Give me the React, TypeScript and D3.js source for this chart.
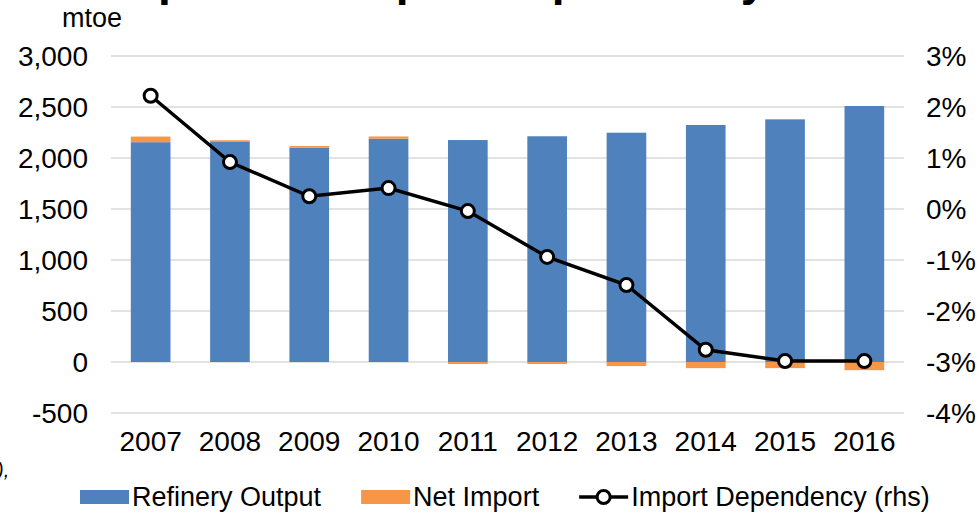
import React, { useEffect, useRef } from "react";
import * as d3 from "d3";

// chart values
const years = ["2007", "2008", "2009", "2010", "2011", "2012", "2013", "2014", "2015", "2016"];
const refineryOutput = [2155, 2157, 2100, 2189, 2176, 2213, 2248, 2324, 2379, 2510];
const netImport = [55, 17, 18, 22, -20, -20, -40, -60, -60, -80];
const importDependency = [2.22, 0.92, 0.25, 0.41, -0.04, -0.94, -1.49, -2.76, -2.98, -2.98];

const leftTicks = [-500, 0, 500, 1000, 1500, 2000, 2500, 3000];
const rightTicks = [-4, -3, -2, -1, 0, 1, 2, 3];

const legendItems = ["Refinery Output", "Net Import", "Import Dependency (rhs)"];

const WIDTH = 977;
const HEIGHT = 512;
const BLUE = "#4F81BD";
const ORANGE = "#F79646";
const FONT = "'Liberation Sans', Arial, sans-serif";

const App = () => {
  const svgRef = useRef<SVGSVGElement>(null);

  useEffect(() => {
    const svg = d3.select(svgRef.current);
    svg.selectAll("*").remove();

    const plot = { left: 111, right: 904, top: 56, bottom: 413 };

    const x = d3
      .scaleBand()
      .domain(years)
      .range([plot.left, plot.right])
      .paddingInner(0.5)
      .paddingOuter(0.25);
    const y = d3.scaleLinear().domain([-500, 3000]).range([plot.bottom, plot.top]);
    const yRight = d3.scaleLinear().domain([-4, 3]).range([plot.bottom, plot.top]);

    // cut-off title at the very top (only descenders show)
    svg
      .append("text")
      .attr("x", 84)
      .attr("y", -5)
      .style("font-family", FONT)
      .style("font-weight", "bold")
      .style("font-size", "46px")
      .text("Oil product import dependency");

    // unit label
    svg
      .append("text")
      .attr("x", 62)
      .attr("y", 27)
      .style("font-family", FONT)
      .style("font-size", "27px")
      .text("mtoe");

    // gridlines
    svg
      .append("g")
      .selectAll("line")
      .data(leftTicks)
      .enter()
      .append("line")
      .attr("x1", plot.left)
      .attr("x2", plot.right)
      .attr("y1", (d) => y(d))
      .attr("y2", (d) => y(d))
      .attr("stroke", "#D9D9D9")
      .attr("stroke-width", 1.5);

    // left axis labels
    svg
      .append("g")
      .selectAll("text")
      .data(leftTicks)
      .enter()
      .append("text")
      .attr("x", 88)
      .attr("y", (d) => y(d))
      .attr("dy", "0.35em")
      .attr("text-anchor", "end")
      .style("font-family", FONT)
      .style("font-size", "28px")
      .text((d) => d3.format(",")(d).replace("−", "-"));

    // right axis labels
    svg
      .append("g")
      .selectAll("text")
      .data(rightTicks)
      .enter()
      .append("text")
      .attr("x", 926)
      .attr("y", (d) => yRight(d))
      .attr("dy", "0.35em")
      .style("font-family", FONT)
      .style("font-size", "28px")
      .text((d) => `${d}%`);

    // year labels
    svg
      .append("g")
      .selectAll("text")
      .data(years)
      .enter()
      .append("text")
      .attr("x", (d) => (x(d) ?? 0) + x.bandwidth() / 2)
      .attr("y", plot.bottom + 38)
      .attr("text-anchor", "middle")
      .style("font-family", FONT)
      .style("font-size", "28px")
      .text((d) => d);

    // stacked bars
    const rows = years.map((yr, i) => ({
      year: yr,
      refinery: refineryOutput[i],
      netImport: netImport[i],
    }));
    const series = d3
      .stack<any>()
      .keys(["refinery", "netImport"])
      .offset(d3.stackOffsetDiverging)(rows);
    const colors = [BLUE, ORANGE];

    svg
      .append("g")
      .selectAll("g")
      .data(series)
      .enter()
      .append("g")
      .attr("fill", (_d, i) => colors[i])
      .selectAll("rect")
      .data((d) => d)
      .enter()
      .append("rect")
      .attr("x", (d: any) => x(d.data.year) ?? 0)
      .attr("width", x.bandwidth())
      .attr("y", (d) => y(Math.max(d[0], d[1])))
      .attr("height", (d) => Math.abs(y(d[0]) - y(d[1])));

    // import dependency line
    const line = d3
      .line<number>()
      .x((_d, i) => (x(years[i]) ?? 0) + x.bandwidth() / 2)
      .y((d) => yRight(d));

    svg
      .append("path")
      .datum(importDependency)
      .attr("d", line)
      .attr("fill", "none")
      .attr("stroke", "#000")
      .attr("stroke-width", 3.5);

    svg
      .append("g")
      .selectAll("circle")
      .data(importDependency)
      .enter()
      .append("circle")
      .attr("cx", (_d, i) => (x(years[i]) ?? 0) + x.bandwidth() / 2)
      .attr("cy", (d) => yRight(d))
      .attr("r", 6.5)
      .attr("fill", "#fff")
      .attr("stroke", "#000")
      .attr("stroke-width", 3);

    // clipped source note at left edge
    svg
      .append("text")
      .attr("x", -3)
      .attr("y", 477)
      .style("font-family", FONT)
      .style("font-style", "italic")
      .style("font-size", "20px")
      .text("),");

    // legend
    const legend = svg.append("g");
    const legendY = 497;
    let lx = 80;
    legendItems.forEach((label, i) => {
      if (i < 2) {
        legend
          .append("rect")
          .attr("x", lx)
          .attr("y", legendY - 7)
          .attr("width", 49)
          .attr("height", 14)
          .attr("fill", colors[i]);
      } else {
        legend
          .append("line")
          .attr("x1", lx)
          .attr("x2", lx + 49)
          .attr("y1", legendY)
          .attr("y2", legendY)
          .attr("stroke", "#000")
          .attr("stroke-width", 3.5);
        legend
          .append("circle")
          .attr("cx", lx + 24.5)
          .attr("cy", legendY)
          .attr("r", 6.5)
          .attr("fill", "#fff")
          .attr("stroke", "#000")
          .attr("stroke-width", 3);
      }
      const t = legend
        .append("text")
        .attr("x", lx + 52)
        .attr("y", legendY)
        .attr("dy", "0.35em")
        .style("font-family", FONT)
        .style("font-size", "27px")
        .text(label);
      const w = (t.node() as SVGTextElement).getComputedTextLength();
      lx += 52 + w + 40;
    });
  }, []);

  return (
    <div style={{ position: "fixed", left: 0, top: 0 }}>
      <svg ref={svgRef} width={WIDTH} height={HEIGHT} style={{ display: "block", background: "#fff" }} />
    </div>
  );
};

export default App;
